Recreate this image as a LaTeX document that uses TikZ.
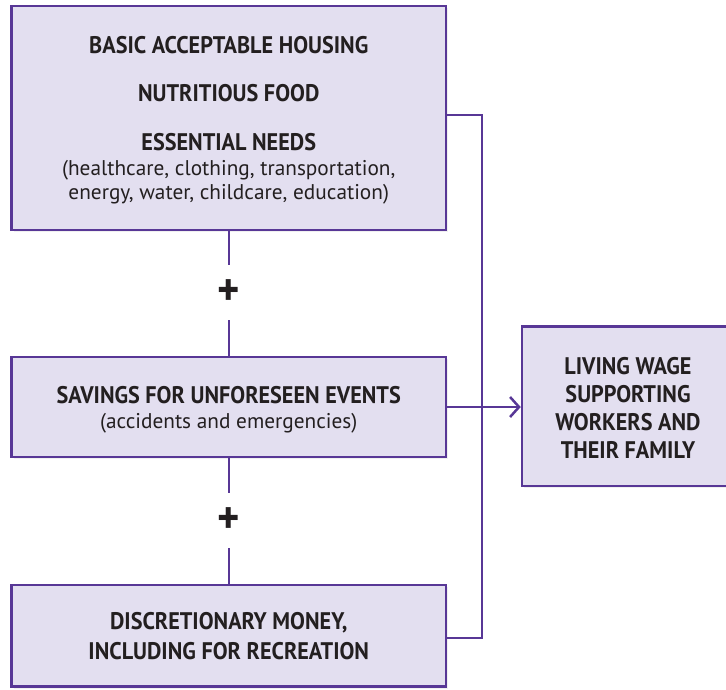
\documentclass[tikz,border=0pt]{standalone}
\usepackage{fontspec}
\setmainfont{PT Sans}[FakeStretch=0.925]
\newfontfamily\notefont{PT Sans}
\usetikzlibrary{arrows.meta,shadows,positioning}
\definecolor{lw_purple}{RGB}{88, 55, 150}
\definecolor{lw_lilac}{RGB}{227, 223, 240}
\definecolor{lw_ink}{RGB}{35, 31, 32}
\tikzstyle{box}=[rectangle,fill=lw_lilac,draw=lw_purple,line width=2.5pt,
  inner sep=0pt,drop shadow={shadow xshift=2pt,shadow yshift=-2pt,opacity=0.12}]
\tikzstyle{head}=[text=lw_ink,font=\fontsize{24}{28}\selectfont\bfseries,
  align=center,inner sep=0pt]
\tikzstyle{note}=[text=lw_ink,font=\notefont\fontsize{21.3}{24}\selectfont,
  align=center,inner sep=0pt]
\tikzstyle{plus}=[text=lw_ink,font=\fontsize{46}{46}\selectfont\bfseries,
  minimum height=55pt,inner sep=0pt]
\tikzstyle{link}=[draw=lw_purple,line width=2.5pt]
\tikzstyle{none}=[]

\begin{document}
\begin{tikzpicture}[x=1pt,y=-1pt]
        \useasboundingbox (0,0) rectangle (726,689);
        % boxes
        \node [style=box,minimum width=434.5pt,minimum height=224pt] (0) at (228.75,118) {};
        \node [style=box,minimum width=434.5pt,minimum height=100pt] (1) at (228.75,407) {};
        \node [style=box,minimum width=434.5pt,minimum height=101.5pt] (2) at (228.75,635.75) {};
        \node [style=box,minimum width=212pt,minimum height=159.5pt] (3) at (628,406.25) {};
        % texts
        \node [style=head] (4) at (228.75,45) {BASIC ACCEPTABLE HOUSING};
        \node [style=head] (5) at (228.75,93) {NUTRITIOUS FOOD};
        \node [style=head] (6) at (228.75,142) {ESSENTIAL NEEDS};
        \node [style=note] (7) at (228.75,182) {(healthcare, clothing, transportation,\\energy, water, childcare, education)};
        \node [style=head] (8) at (228.75,395) {SAVINGS FOR UNFORESEEN EVENTS};
        \node [style=note] (9) at (228.75,423) {(accidents and emergencies)};
        \node [style=head,font=\fontsize{24}{30}\selectfont\bfseries] (10) at (228.75,636) {DISCRETIONARY MONEY,\\INCLUDING FOR RECREATION};
        \node [style=head] (11) at (628,408) {LIVING WAGE\\SUPPORTING\\WORKERS AND\\THEIR FAMILY};
        % plus signs
        \node [style=plus] (12) at (228.75,292.5) {+};
        \node [style=plus] (13) at (228.75,520.5) {+};
        \coordinate (14) at (482,115);
        \coordinate (15) at (482,638);
        \draw [style=link] (0) to (12) to (1) to (13) to (2);
        \draw [style=link] (0.east |- 14) to (14) to (15) to (2.east |- 15);
        \draw [style=link,-{Straight Barb[length=9pt,width=20pt]}] (1.east) to (1.east -| 3.west);
    \end{tikzpicture}
\end{document}
